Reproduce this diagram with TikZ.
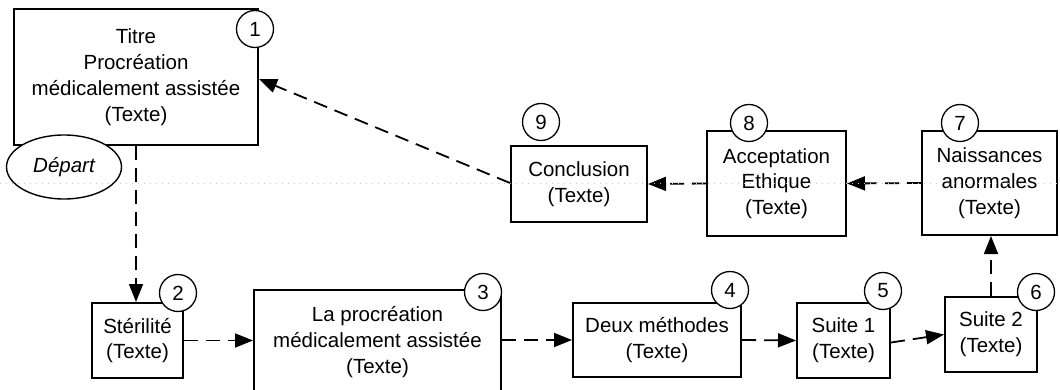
\documentclass[tikz,border=0pt]{standalone}
\usepackage{fontspec}
\setmainfont{Liberation Sans}
\usetikzlibrary{arrows.meta,shapes.geometric}
\begin{document}
\begin{tikzpicture}[x=1pt,y=-1pt,
  every node/.style={font=\fontsize{20.5}{25.8}\selectfont},
  box/.style={draw=black, line width=2pt, fill=white, align=center, inner sep=0pt},
  num/.style={draw=black, line width=1.3pt, fill=white, circle, minimum size=37pt, inner sep=0pt},
  conn/.style={line width=1.8pt, dash pattern=on 14pt off 8pt, -{Triangle[length=18pt,width=14pt]}}]
\useasboundingbox (0,0) rectangle (1060,390);
\clip (0,0) rectangle (1060,390);
% boxes
\node[box, minimum width=244pt, minimum height=136pt] (b1) at (136,77) {Titre\\Procréation\\médicalement assistée\\(Texte)};
\node[box, draw=black, line width=1.4pt, ellipse, minimum width=115pt, minimum height=64pt] (dep) at (64,167) {\itshape Départ};
\node[box, minimum width=91pt, minimum height=75pt] (b2) at (137.5,340.5) {Stérilité\\(Texte)};
\node[box, minimum width=247pt, minimum height=104pt, anchor=north] (b3) at (377.5,289) {La procréation\\médicalement assistée\\(Texte)};
\node[box, minimum width=168pt, minimum height=74pt] (b4) at (657,340) {Deux méthodes\\(Texte)};
\node[box, minimum width=93pt, minimum height=75pt] (b5) at (843.5,340.5) {Suite 1\\(Texte)};
\node[box, minimum width=92pt, minimum height=75pt] (b6) at (991,334.5) {Suite 2\\(Texte)};
\node[box, minimum width=135pt, minimum height=104pt] (b7) at (989.5,183) {Naissances\\anormales\\(Texte)};
\node[box, minimum width=139pt, minimum height=105pt] (b8) at (776.5,183.5) {Acceptation\\Ethique\\(Texte)};
\node[box, minimum width=136pt, minimum height=76pt] (b9) at (579,184) {Conclusion\\(Texte)};
% numbers
\node[num] (n1) at (255,29) {1};
\node[num] (n2) at (178,293) {2};
\node[num] (n3) at (483,292) {3};
\node[num] (n4) at (730,290) {4};
\node[num] (n5) at (883,291) {5};
\node[num] (n6) at (1036,292) {6};
\node[num] (n7) at (960,123) {7};
\node[num] (n8) at (749,123) {8};
\node[num] (n9) at (541,122) {9};
% connectors
\draw[conn] (b1.south) -- (b1.south |- b2.north);
\draw[conn] (b2.east) -- (b2.east -| b3.west);
\draw[conn] (b4.west -| b3.east) -- (b4.west);
\draw[conn] (b4.east) -- (b5.west);
\draw[conn] ([yshift=-2pt]b5.east) -- (b6.west);
\draw[conn] (b6.north) -- (b6.north |- b7.south);
\draw[conn] (b7.west) -- (b8.east);
\draw[conn] (b8.west) -- (b9.east);
\draw[conn] ([yshift=1pt]b9.west) -- ([yshift=-2pt]b1.east);
% faint guide line
\draw[gray!45, line width=0.6pt, dash pattern=on 1pt off 5pt] (0,183) -- (1060,183);
\end{tikzpicture}
\end{document}
